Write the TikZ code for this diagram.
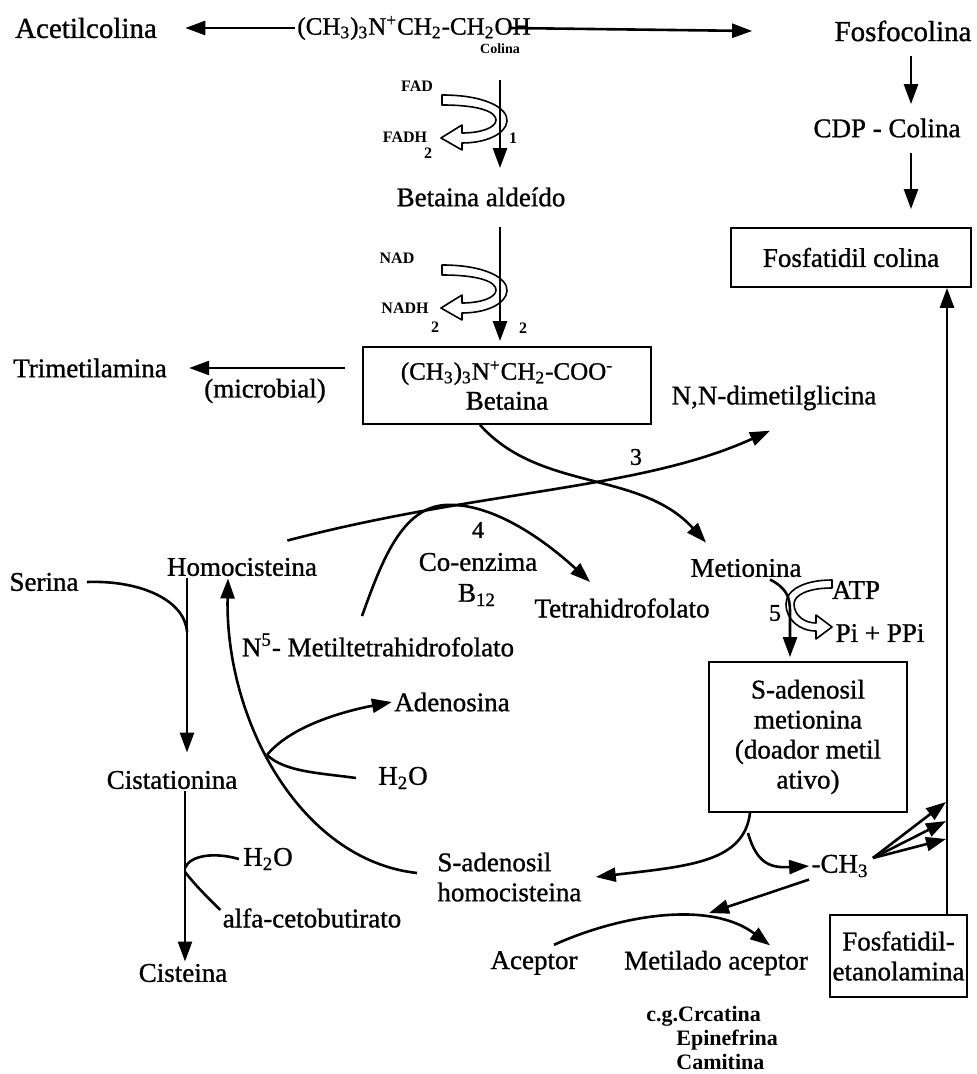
\documentclass[tikz,border=0pt]{standalone}
\usepackage{fontspec}
\setmainfont{Liberation Serif}[UprightFeatures={FakeBold=1}]
\usetikzlibrary{arrows.meta}

\tikzset{
  lbl/.style={font=\fontsize{13.5}{15}\selectfont, inner sep=1pt},
  biglbl/.style={font=\fontsize{14.5}{16}\selectfont, inner sep=1pt},
  cof/.style={font=\bfseries\fontsize{8}{9}\selectfont, inner sep=1pt},
  tag/.style={font=\bfseries\fontsize{7}{8}\selectfont, inner sep=1pt},
  note/.style={font=\bfseries\fontsize{11}{12}\selectfont, inner sep=0pt, align=left},
  num/.style={font=\fontsize{12}{13}\selectfont, inner sep=1pt},
  boxed/.style={draw, line width=0.9pt, align=center, inner sep=0pt},
  conn/.style={line width=1.3pt},
  arr/.style={conn, -{Triangle[length=10pt,width=7pt]}},
  band/.style={draw, fill=white, line width=0.8pt, line join=round},
}

% hollow cofactor arrow (FAD, NAD), centred on the main line
\newcommand{\redoxband}[2]{%
  \draw[band, shift={(#1,#2)}] (-58,-25) .. controls (-15,-25) and (8,-12) .. (7,1)
    .. controls (6,14) and (-14,23) .. (-38,23) -- (-38,30) -- (-59,18) -- (-38,5)
    -- (-38,13) .. controls (-20,13) and (-4,8) .. (-4,0)
    .. controls (-4,-8) and (-20,-15) .. (-58,-15) -- cycle;}

\begin{document}
\begin{tikzpicture}[x=0.5pt,y=-0.5pt]
  \useasboundingbox (0,0) rectangle (977,1074);

  % colina e seus destinos
  \node[biglbl] (acetil) at (86,28) {Acetilcolina};
  \node[lbl, font=\fontsize{12.5}{14}\selectfont] (colina) at (414,28) {(CH\textsubscript{3})\textsubscript{3}N\textsuperscript{+}CH\textsubscript{2}-CH\textsubscript{2}OH};
  \node[tag] (colsub) at (500,49) {Colina};
  \node[biglbl] (fosfo) at (903,31) {Fosfocolina};
  \node[lbl] (cdp) at (887,128) {CDP - Colina};
  \node[lbl, boxed, minimum width=120pt, minimum height=29.5pt] (fcol) at (851,257.5) {Fosfatidil colina};

  \draw[arr] (colina.west) -- ([xshift=13pt]acetil.east);
  \draw[arr] ([xshift=-12pt]colina.east) -- ([xshift=-40pt]fosfo.west);
  \draw[arr, shorten <=6pt, shorten >=6pt] ([xshift=4pt]fosfo.south) -- ([xshift=4pt]fosfo.south |- cdp.north);
  \draw[arr, shorten <=6.5pt, shorten >=9pt] ([xshift=12pt]cdp.south) -- ([xshift=12pt]cdp.south |- fcol.north);

  % oxidacao ate betaina
  \node[lbl] (betald) at (481,197) {Betaina aldeído};
  \node[cof] (fad) at (417,86) {FAD};
  \node[cof] (fadh) at (405,137) {FADH};
  \node[cof] (fadh2) at (428,153) {2};
  \node[cof] (st1) at (513,138) {1};
  \node[cof] (nad) at (397,258) {NAD};
  \node[cof] (nadh) at (405,308) {NADH};
  \node[cof] (nadh2) at (435,327) {2};
  \node[cof] (st2) at (523,328) {2};
  \node[lbl, boxed, minimum width=144pt, minimum height=38.5pt] (betbox) at (507,385.5)
    {{\fontsize{12.5}{15}\selectfont (CH\textsubscript{3})\textsubscript{3}N\textsuperscript{+}CH\textsubscript{2}-COO\textsuperscript{-}}\\Betaina};

  \redoxband{500}{120}
  \redoxband{500}{290}
  \draw[arr, shorten <=12pt, shorten >=8.5pt] (colsub.south) -- (colsub.south |- betald.north);
  \draw[arr, shorten <=9pt, shorten >=2.5pt] (colsub.south |- betald.south) -- (colsub.south |- betbox.north);

  \node[lbl] (trimet) at (90,368) {Trimetilamina};
  \node[lbl] (micro) at (265,391) {(microbial)};
  \coordinate (trs) at (345,368);
  \draw[arr] (trs) -- ([xshift=10pt]trimet.east);

  % transmetilacao
  \node[lbl] (dmg) at (774,398) {N,N-dimetilglicina};
  \node[num] (st3) at (636,457) {3};
  \node[num] (st4) at (478,530) {4};
  \node[lbl] (coenz) at (478,562) {Co-enzima};
  \node[lbl] (b12) at (477,595) {B\textsubscript{12}};
  \node[lbl] (homo) at (242,567) {Homocisteina};
  \node[lbl] (serina) at (44,582) {Serina};
  \node[lbl] (thf) at (622,608) {Tetrahidrofolato};
  \node[lbl] (met) at (746,568) {Metionina};
  \node[lbl] (n5) at (378,645) {N\textsuperscript{5}- Metiltetrahidrofolato};

  \draw[arr] ([xshift=-13.5pt]betbox.south) .. controls (540,492) and (640,470) .. ([shift={(-20pt,7pt)}]met.north);
  \draw[arr] ([shift={(-16pt,7.5pt)}]homo.north east) .. controls (480,490) and (640,490) .. ([shift={(-2pt,-9pt)}]dmg.south);
  \draw[arr] ([shift={(-8pt,7.5pt)}]n5.north) .. controls (382,560) and (402,508) .. (445,505)
    .. controls (495,502) and (550,545) .. ([shift={(-16pt,7pt)}]thf.north);

  % ativacao da metionina
  \node[lbl] (atp) at (856,590) {ATP};
  \node[lbl] (pi) at (880,633) {Pi + PPi};
  \node[num] (st5) at (775,613) {5};
  \node[lbl, boxed, minimum width=99pt, minimum height=75pt] (sam) at (808,737)
    {S-adenosil\\metionina\\(doador metil\\ativo)};

  \draw[band, shift={(790,600)}] (42,-20) .. controls (14,-20) and (-4,-10) .. (-4,4)
    .. controls (-4,20) and (10,31) .. (26,31) -- (26,39) -- (42,27) -- (26,15)
    -- (26,23) .. controls (14,23) and (4,15) .. (4,4)
    .. controls (4,-5) and (18,-12) .. (42,-12) -- cycle;
  \draw[arr] ([xshift=12pt]met.south) .. controls (786,588) and (790,596) .. (790,612)
    -- ([xshift=-9pt,yshift=2pt]sam.north);

  % via da transsulfuracao
  \node[lbl] (cista) at (172,780) {Cistationina};
  \node[lbl] (h2ob) at (268,859) {H\textsubscript{2}O};
  \node[lbl] (alfa) at (312,918) {alfa-cetobutirato};
  \node[lbl] (cisteina) at (183,973) {Cisteina};

  \coordinate (ser) at (187,632);
  \draw[conn] ([xshift=3pt]serina.east) .. controls (140,580) and (185,600) .. (ser);
  \draw[arr, shorten >=8pt] ([xshift=-27.5pt]homo.south) -- ([xshift=-27.5pt]homo.south |- cista.north);
  \draw[arr] ([xshift=6.5pt]cista.south) -- ([xshift=6.5pt]cista.south |- cisteina.north);
  \coordinate (cb1) at (185,868);
  \coordinate (cb2) at (185,872);
  \draw[conn] (cb1) .. controls (190,855) and (215,852) .. ([xshift=-1pt]h2ob.west);
  \draw[conn] (cb2) .. controls (195,885) and (210,900) .. ([yshift=-2pt]alfa.north west);

  % s-adenosil homocisteina
  \node[lbl] (adeno) at (452,702) {Adenosina};
  \node[lbl] (h2oa) at (403,778) {H\textsubscript{2}O};
  \node[lbl, align=left, anchor=west] (sah) at (435,877) {S-adenosil\\homocisteina};

  \draw[arr] ([shift={(-9pt,2pt)}]sah.west) .. controls (300,860) and (225,720) .. ([xshift=-7pt]homo.south);
  \coordinate (adb) at (267,755);
  \draw[arr] (adb) .. controls (290,727) and (340,712) .. (adeno.west);
  \draw[conn] (adb) .. controls (285,772) and (320,773) .. ([xshift=-10pt]h2oa.west);

  % doacao do metil
  \node[lbl] (ch3) at (840,866) {-CH\textsubscript{3}};
  \node[lbl] (acep) at (534,963) {Aceptor};
  \node[lbl] (metac) at (716,963) {Metilado aceptor};
  \node[lbl, boxed, minimum width=68.5pt, minimum height=41pt] (fetn) at (898.5,956) {Fosfatidil-\\etanolamina};
  \node[note, anchor=north west] (eg) at (646,1006) {c.g.Crcatina\\\hspace*{15pt}Epinefrina\\\hspace*{15pt}Camitina};

  \draw[arr] ([xshift=-29pt]sam.south) .. controls (744,862) and (690,866) .. ([xshift=6pt]sah.east);
  \coordinate (sb) at (748,833);
  \draw[arr] (sb) .. controls (757,865) and (772,868) .. (ch3.west);
  \coordinate (mtop) at (709,913);
  \draw[arr] ([xshift=-15.5pt]ch3.south) -- (mtop);
  \draw[arr] ([shift={(10pt,2pt)}]acep.north) .. controls (620,915) and (710,900) .. ([shift={(27pt,1.5pt)}]metac.north);

  \draw[arr] ([shift={(1pt,4pt)}]ch3.east) -- (946,802);
  \draw[arr] ([shift={(1pt,4pt)}]ch3.east) -- (946,821);
  \draw[arr] ([shift={(1pt,4pt)}]ch3.east) -- (946,839);
  \draw[arr] ([xshift=24.25pt]fetn.north) -- ([xshift=24.25pt]fetn.north |- fcol.south);
\end{tikzpicture}
\end{document}
